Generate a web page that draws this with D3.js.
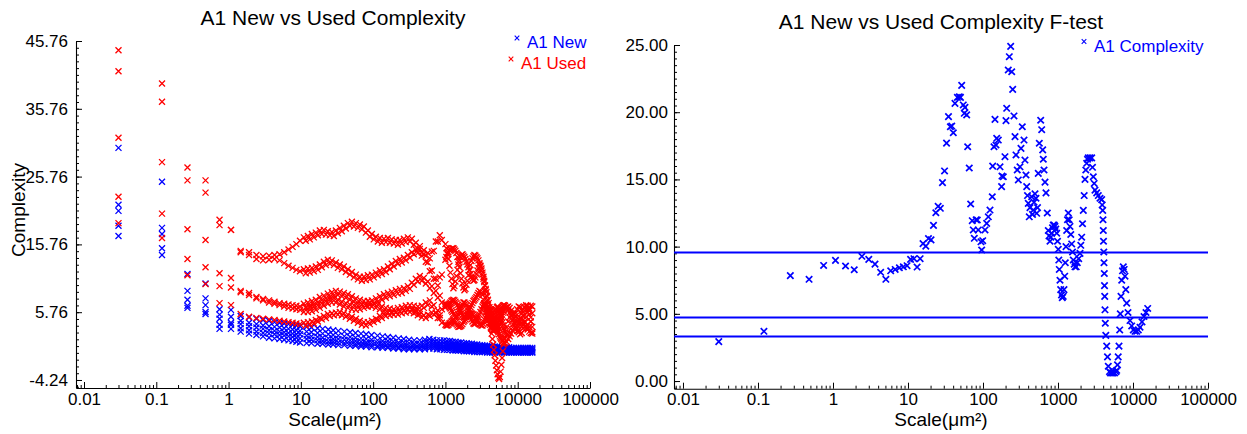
<!DOCTYPE html>
<html><head><meta charset="utf-8">
<script src="https://cdn.jsdelivr.net/npm/d3@7"></script>
<style>
body{margin:0;background:#fff}
svg{display:block}
text{font-family:"Liberation Sans",Arial,sans-serif;fill:#000}
</style>
</head><body><svg id="c" width="1247" height="434"></svg>
<script>
// ---------------- DATA ----------------
// Left panel, A1 New: scale values (µm²) shared by the blue curves
const scaleValues = [0.03,0.12,0.27,0.48,0.75,1.08,1.47,1.92,2.43,3.0,3.63,4.32,5.07,5.88,6.75,7.68,8.67,9.72,
 12,14,17,20,24,28,33,40,48,57,68,80,95,115,135,160,190,225,265,315,370,440,520,600,680,760,850,950,
 1050,1150,1260,1380,1510,1650,1800,1960,2130,2320,2520,2740,2980,3230,3500,3790,4100,4440,4800,5190,5600,6050,6530,7050,7600,8200,8850,9550,10300,11100,11950,12850,13800,14800,15900];

const newCurve1 = [30.0,25.0,11.4,10.0,6.2,6.1,5.2,5.0,4.8,4.6,4.5,4.3,4.2,4.1,4.0,3.9,3.8,3.7,
 3.6,3.5,3.4,3.3,3.2,3.1,3.0,2.9,2.8,2.7,2.6,2.5,2.4,2.3,2.2,2.1,2.0,1.9,1.8,1.7,1.6,1.6,1.7,1.8,1.7,1.6,1.6,1.6,
 1.5,1.5,1.4,1.4,1.3,1.3,1.2,1.2,1.1,1.1,1.0,1.0,0.9,0.9,0.8,0.8,0.8,0.7,0.7,0.7,0.6,0.6,0.6,0.6,0.6,0.5,0.5,0.5,0.5,0.5,0.5,0.5,0.5,0.5,0.5];
const newCurve2 = [21.6,18.2,8.9,7.8,5.4,5.1,4.5,4.2,4.0,3.8,3.7,3.6,3.5,3.4,3.3,3.2,3.1,3.0,
 2.9,2.8,2.7,2.6,2.5,2.4,2.3,2.2,2.1,2.0,1.9,1.8,1.7,1.6,1.5,1.5,1.4,1.3,1.3,1.2,1.1,1.1,1.3,1.4,1.3,1.2,1.2,1.2,
 1.1,1.1,1.0,1.0,1.0,0.9,0.9,0.8,0.8,0.8,0.7,0.7,0.7,0.6,0.6,0.6,0.5,0.5,0.5,0.4,0.4,0.4,0.4,0.4,0.3,0.3,0.3,0.3,0.3,0.3,0.3,0.3,0.3,0.3,0.3];
const newCurve3 = [20.7,17.3,7.6,6.8,4.8,4.2,4.0,3.7,3.5,3.3,3.1,3.0,2.9,2.8,2.7,2.6,2.5,2.5,
 2.3,2.2,2.1,2.0,1.9,1.8,1.8,1.7,1.6,1.5,1.4,1.3,1.3,1.2,1.1,1.1,1.0,1.0,0.9,0.8,0.8,0.8,0.9,1.0,1.0,0.9,0.9,0.8,
 0.8,0.8,0.7,0.7,0.7,0.6,0.6,0.6,0.5,0.5,0.5,0.4,0.4,0.4,0.3,0.3,0.3,0.3,0.2,0.2,0.2,0.2,0.2,0.1,0.1,0.1,0.1,0.1,0.1,0.1,0.1,0.1,0.1,0.1,0.1];
const newCurve4 = [18.5,15.2,6.7,5.8,3.9,3.9,3.4,3.1,2.9,2.7,2.6,2.5,2.4,2.3,2.2,2.1,2.0,1.9,
 1.8,1.7,1.6,1.5,1.4,1.4,1.3,1.2,1.2,1.1,1.0,1.0,0.9,0.8,0.8,0.7,0.7,0.6,0.6,0.5,0.5,0.5,0.6,0.7,0.7,0.6,0.6,0.5,
 0.5,0.5,0.4,0.4,0.4,0.3,0.3,0.3,0.3,0.2,0.2,0.2,0.2,0.1,0.1,0.1,0.1,0.0,0.0,0.0,0.0,0.0,0.0,-0.1,-0.1,-0.1,-0.1,-0.1,-0.1,-0.1,-0.1,-0.1,-0.1,-0.1,-0.1];
const newCurve5 = [17.0,14.2,6.4,5.5,3.3,3.3,2.9,2.6,2.4,2.2,2.0,1.9,1.8,1.7,1.6,1.5,1.4,1.3,
 1.2,1.2,1.1,1.1,1.0,1.0,0.9,0.9,0.8,0.8,0.7,0.7,0.6,0.6,0.5,0.5,0.4,0.4,0.3,0.3,0.3,0.3,0.3,0.4,0.4,0.3,0.3,0.2,
 0.2,0.2,0.1,0.1,0.1,0.1,0.0,0.0,0.0,0.0,-0.1,-0.1,-0.1,-0.1,-0.1,-0.2,-0.2,-0.2,-0.2,-0.2,-0.2,-0.2,-0.2,-0.2,-0.2,-0.2,-0.2,-0.2,-0.2,-0.2,-0.2,-0.2,-0.2,-0.2,-0.2];

// Left panel, A1 Used: scale values shared by the red curves (denser where the red bands are dense)
const usedScale = [0.03,0.12,0.27,0.48,0.75,1.08,1.47,1.92,2.43,3.0,3.63,4.32,5.07,5.88,6.75,7.68,8.67,9.72,
 11,11.7,12.5,13.3,14.2,15.1,16.1,17.2,18.3,19.5,20.8,22.2,23.6,25.2,26.8,28.6,30.5,32.5,34.6,36.9,
 39.3,41.9,44.7,47.6,50.8,54.1,57.7,61.5,65.5,69.8,74.4,79.3,84.5,90,96,102,109,116,124,132,
 141,150,160,170,181,193,206,220,234,249,266,283,302,322,343,365,389,415,442,471,502,535,570,608,648,690,736,784,836,891,
 1000,1032,1066,1100,1136,1173,1211,1250,1290,1332,1375,1420,1466,1513,1562,1613,1665,1719,1775,1832,
 1892,1953,2016,2082,2149,2219,2291,2365,2442,2521,2602,2687,2774,2864,2956,3052,3151,3253,
 3358,3439,3521,3606,3692,3781,3872,3965,4060,4157,4257,4359,4464,4571,4681,4793,4908,5026,5147,5270,5397,5526,5659,5795,5934,6077,6222,6372,6525,
 6700,7030,7375,7737,8117,8515,8933,9372,9832,10314,10820,11351,11909,12493,13106,13750,14425,15133,15900];

const usedCurve1 = [44.4,39.5,27.1,25.2,19.4,17.9,14.8,14.6,14.2,14.0,14.1,14.2,14.3,14.6,15.0,15.4,15.8,16.3,
 16.8,16.3,17.0,16.5,17.3,16.8,17.5,17.1,17.8,17.3,17.9,17.2,17.7,17.1,17.6,17.0,17.8,17.4,18.2,17.7,
 18.5,18.1,18.9,18.5,19.1,18.4,18.9,18.2,18.7,18.0,18.4,17.5,17.8,16.9,17.3,16.5,16.9,16.2,16.7,16.0,
 16.6,16.1,16.7,16.0,16.5,15.9,16.4,15.7,16.4,15.9,16.6,16.1,16.8,16.2,16.6,15.7,16.0,15.1,15.5,14.6,14.9,14.1,14.5,13.7,14.7,14.8,16.2,16.2,17.1,16.4,
 15.8,15.2,14.5,13.6,12.6,11.6,10.7,9.9,9.3,9.6,10.3,11.1,12.0,12.8,13.4,13.9,14.2,14.3,14.1,13.9,
 13.6,13.2,12.8,12.4,11.9,11.4,11.0,10.7,10.4,10.5,10.9,11.4,11.9,12.3,12.8,12.6,12.2,11.6,
 11.0,10.4,9.7,9.0,8.2,7.4,6.6,5.8,5.0,4.2,3.4,2.6,1.8,1.0,0.2,-0.6,-1.4,-2.1,-2.8,-3.4,-3.9,-4.1,-3.8,-3.0,-2.0,-1.0,0.0,1.0,1.9,
 2.6,3.6,4.4,5.0,5.4,5.6,5.5,5.2,4.9,4.7,4.4,4.2,3.9,3.6,3.4,3.2,2.9,2.7,2.6];
const usedCurve2 = [41.3,36.8,25.2,23.4,18.6,17.9,14.6,14.2,13.6,13.4,13.5,13.6,13.4,13.0,12.6,12.3,12.0,11.8,
 12.1,11.5,12.2,11.6,12.3,11.8,12.5,12.0,12.8,12.4,13.2,12.7,13.5,12.9,13.4,12.7,13.1,12.3,12.8,12.1,
 12.5,11.7,12.1,11.3,11.7,10.9,11.3,10.6,11.0,10.4,11.0,10.5,11.2,10.6,11.3,10.9,11.6,11.2,11.9,11.4,
 12.1,11.7,12.5,12.1,12.9,12.5,13.3,12.9,13.6,13.1,13.8,13.4,14.2,13.8,14.6,14.3,15.0,14.5,15.1,14.1,14.3,13.2,13.1,11.8,11.9,10.7,10.7,9.7,10.9,11.3,
 13.5,13.9,14.3,14.6,14.9,15.0,15.1,15.2,15.2,15.0,14.8,14.5,13.9,13.2,12.4,11.5,10.7,10.0,9.4,9.0,
 9.2,9.8,10.4,11.2,12.0,12.7,13.3,13.7,14.0,14.2,14.1,13.9,13.7,13.4,13.0,12.5,11.9,11.3,
 10.7,10.2,9.7,9.2,8.7,8.1,7.6,7.1,6.5,6.0,5.5,5.0,4.6,4.2,3.8,3.5,3.3,3.2,3.3,3.5,3.7,4.0,4.4,4.8,5.1,5.4,5.7,5.9,6.1,
 6.3,6.5,6.6,6.4,6.0,5.5,4.9,4.1,3.4,2.8,2.5,2.7,3.4,4.2,5.1,5.8,6.3,6.7,6.6];
const usedCurve3 = [31.5,27.9,18.0,16.4,11.5,10.8,8.9,8.6,8.0,7.7,7.5,7.3,7.1,7.0,6.9,6.8,6.7,6.6,
 7.0,6.5,7.2,6.7,7.4,6.9,7.6,7.2,8.0,7.5,8.2,7.8,8.5,8.0,8.7,8.2,8.9,8.3,8.8,8.1,
 8.6,7.9,8.4,7.6,8.1,7.3,7.8,7.1,7.6,6.9,7.4,6.7,7.4,6.8,7.5,7.0,7.8,7.3,8.1,7.6,
 8.4,7.9,8.6,8.1,8.8,8.3,9.0,8.5,9.2,8.6,9.3,8.9,9.6,9.2,10.1,9.8,10.7,10.3,11.1,10.4,10.8,10.0,10.3,9.3,9.6,8.6,8.9,7.9,8.2,7.2,
 7.0,6.9,6.8,6.9,7.0,7.2,7.4,7.5,7.6,7.5,7.3,7.1,6.8,6.5,6.2,5.9,5.6,5.3,5.1,5.0,
 5.1,5.3,5.6,5.9,6.2,6.5,6.8,7.1,7.4,7.6,7.8,8.0,8.3,8.6,8.9,8.8,8.6,8.3,
 7.6,7.1,6.7,6.2,5.8,5.4,5.0,4.6,4.2,3.9,3.6,3.3,3.1,3.0,3.1,3.3,3.6,4.0,4.4,4.8,5.1,5.5,5.8,6.1,6.3,6.5,6.7,6.8,6.8,
 6.7,6.5,6.1,5.7,5.2,4.7,4.1,3.6,3.0,3.1,3.9,4.8,5.8,6.4,6.8,6.7,6.0,5.0,3.6];
const usedCurve4 = [22.8,20.3,13.6,12.4,9.6,9.4,8.7,8.3,7.8,7.5,7.2,7.0,6.8,6.6,6.4,6.3,6.2,6.1,
 5.8,6.4,5.8,6.5,5.9,6.6,6.1,6.8,6.4,7.1,6.7,7.4,7.0,7.7,7.2,7.9,7.2,7.6,6.9,7.3,
 6.6,7.1,6.4,6.9,6.2,6.8,6.1,6.7,6.2,6.9,6.4,7.1,6.6,7.2,6.6,7.1,6.4,6.9,6.2,6.6,
 5.9,6.4,5.7,6.3,5.6,6.2,5.7,6.4,5.9,6.5,6.0,6.7,6.2,6.8,6.2,6.7,6.0,6.6,5.9,6.7,6.4,7.2,6.8,7.5,6.6,6.8,5.7,6.0,5.3,6.2,
 6.5,6.7,6.8,6.7,6.5,6.3,6.0,5.8,5.5,5.3,5.1,5.0,5.1,5.4,5.8,6.2,6.6,6.9,7.2,7.2,
 7.0,6.8,6.4,6.0,5.6,5.1,4.7,4.4,4.1,4.0,4.1,4.3,4.6,5.0,5.4,5.8,6.2,6.6,
 6.8,7.0,7.0,6.9,6.7,6.4,6.1,5.7,5.3,5.0,4.7,4.5,4.4,4.6,5.0,5.4,5.8,6.2,6.5,6.6,6.4,6.0,5.6,5.1,4.6,4.2,3.8,3.4,3.1,
 2.9,2.5,2.4,2.7,3.3,4.0,4.8,5.6,6.2,6.6,6.5,6.0,5.2,4.4,3.7,3.4,3.6,4.4,5.6];
const usedCurve5 = [18.9,16.7,11.2,9.9,7.1,6.8,5.5,5.1,4.9,4.8,4.7,4.6,4.5,4.4,4.3,4.2,4.1,4.0,
 4.2,3.8,4.3,3.9,4.4,4.1,4.6,4.4,4.9,4.7,5.2,4.9,5.5,5.2,5.6,5.3,5.7,5.4,5.8,5.3,
 5.6,5.1,5.4,4.8,5.1,4.5,4.8,4.2,4.5,3.9,4.3,3.8,4.3,4.0,4.5,4.3,4.8,4.6,5.2,4.9,
 5.5,5.2,5.7,5.3,5.8,5.4,5.8,5.4,5.9,5.6,6.0,5.7,6.2,5.8,6.1,5.6,5.8,5.3,5.5,5.0,5.3,4.9,5.4,5.2,5.7,5.4,5.6,4.9,4.9,4.2,
 3.9,3.8,3.8,3.9,4.1,4.2,4.4,4.5,4.6,4.4,4.2,4.0,3.8,3.6,3.6,3.7,3.8,4.0,4.3,4.5,
 4.7,5.0,5.2,5.3,5.4,5.5,5.6,5.5,5.4,5.2,5.0,4.8,4.5,4.3,4.0,3.9,3.8,3.8,
 4.0,4.3,4.6,4.9,5.2,5.5,5.8,6.0,6.2,6.2,6.1,6.0,5.7,5.3,4.9,4.5,4.1,3.7,3.4,3.1,2.8,2.5,2.2,2.0,1.8,1.6,1.5,1.3,1.2,
 1.2,1.4,1.8,2.2,2.6,3.0,3.3,3.6,3.8,4.3,4.9,5.6,6.2,6.5,6.6,6.2,5.4,4.4,2.8];

// Right panel: F-test
const fScale = [0.03,0.12,0.27,0.48,0.75,1.08,1.47,1.92,2.43,3.0,3.63,4.32,5.07,5.88,6.75,7.68,8.67,9.72,10.83,12.0,13.23,14.52,15.87,17.28,18.75,20.28,21.87,23.52,25.23,27.0,28.83,30.72,32.67,34.68,36.75,
 38.3,40.2,42.3,45.6,48.3,50.1,52.0,54.6,56.3,57.5,60.6,62.5,65.6,68.5,71.9,74.2,76.6,81.1,83.9,86.5,94.0,96.1,99.1,106.4,112,117.8,124,133,134.6,140.2,144.5,149,152.3,160,168.6,177,179,186.6,196.3,202.6,207,217.3,224.4,233.9,241.5,248.9,258.8,267.2,275.4,286.4,295.7,311.3,321.1,334.2,352.1,362.8,374.2,382.6,392,401.7,414,423,445.6,457,468.5,479,493.7,509,520,533,545.8,563.5,
 587.8,606.3,625.2,636.8,650.9,671.3,691.8,719.9,742.5,758.6,782.3,801.8,824.2,844.7,865.7,890,912,934.7,960.9,984.7,1009,1025,1041,1063,1086,1114,1141,1173,1202,1229,1251,1279,1306,1339,1372,1410,1445,1481,1523,1561,1600,1644,1686,1749,1809,1888,1965,2014,2070,2122,2175,2235,2291,2348,2414,2474,2535,2671,2813,2884,2956,3038,3113,3281,3446,3631,3825,3884,3945,3981,4018,4043,4080,4105,4143,4169,4195,4233,4273,4338,4460,4571,4685,4861,5012,5200,5412,5667,5934,6064,6214,6350,6507,6649,6773,6920,7070,7244,7425,7632,7821,8017,8241,8577,9120,9610,10090,10630,11200,11770,12400,13180,14020,14910,15700];
const fValue = [2.93,3.70,7.84,7.57,8.60,8.98,8.56,8.28,9.28,9.05,8.70,8.09,7.57,8.20,8.30,8.43,8.50,8.58,9.05,9.10,8.48,9.10,10.22,10.04,10.60,10.50,11.58,12.52,13.00,12.85,14.76,15.63,17.70,19.67,18.92,
 18.97,18.47,20.66,21.10,21.15,21.10,22.00,20.54,19.92,20.36,19.80,17.43,15.85,13.17,11.93,11.24,10.62,12.00,11.98,11.24,10.36,9.75,10.44,11.24,11.73,12.22,12.72,13.71,15.99,17.43,19.47,17.56,18.06,17.93,15.94,14.46,15.25,15.20,16.69,19.37,20.29,23.14,24.13,24.90,23.01,21.70,19.72,18.18,16.82,15.70,14.96,15.94,17.31,18.92,17.93,16.44,15.33,14.46,13.8,13.22,12.22,12.9,13.71,12.4,12.72,13.3,13.93,13.6,12.48,12.9,15.45,17.69,
 19.4,18.7,17.2,16.5,15.7,14.8,14.0,12.5,11.2,10.8,10.4,10.7,11.0,11.4,11.6,11.6,11.5,11.3,11.0,10.4,9.8,9.0,8.3,7.5,6.8,6.4,6.2,6.3,6.8,7.8,8.8,10.0,11.2,12.0,12.5,12.0,11.5,10.9,10.2,9.6,9.0,8.7,8.5,8.5,8.8,9.1,9.5,10.1,10.7,11.7,12.7,13.8,15.0,15.7,16.2,16.5,16.6,16.6,16.6,15.9,15.2,14.7,14.2,14.0,13.8,13.6,13.5,13.1,12.7,12.0,11.2,10.4,9.6,8.8,8.0,7.1,6.3,5.3,4.3,3.4,2.6,1.8,1.1,0.7,0.6,0.6,0.6,0.6,0.7,0.8,1.2,1.8,2.6,3.8,5.0,6.3,7.5,8.2,8.5,8.3,7.8,6.8,5.8,5.1,4.5,4.1,3.8,3.7,3.7,3.8,4.0,4.4,4.8,5.1,5.4];
const fThresholds = [9.57, 4.72, 3.31];

// Ticks / labels
const xTickValues = [0.01,0.1,1,10,100,1000,10000,100000];
const xTickLabels = ["0.01","0.1","1","10","100","1000","10000","100000"];
const leftYTicks = [-4.24,5.76,15.76,25.76,35.76,45.76];
const rightYTicks = [0,5,10,15,20,25];
const titles = ["A1 New vs Used Complexity","A1 New vs Used Complexity F-test"];
const xLabel = "Scale(\u03bcm\u00b2)";
const yLabelLeft = "Complexity";
const legendLeft = ["A1 New","A1 Used"];
const legendRight = ["A1 Complexity"];

// ---------------- DRAW ----------------
const BLUE = "#0000ff", RED = "#ff0000";
const svg = d3.select("#c");
const cross = s => `M${-s},${-s}L${s},${s}M${s},${-s}L${-s},${s}`;

function minorLog(scale){
  const out=[]; const [a,b]=scale.domain();
  for(let e=-3;e<=5;e++) for(let m=2;m<=9;m++){const v=m*Math.pow(10,e); if(v>a&&v<b) out.push(v);}
  return out;
}
function styleAxis(g, fs){
  g.selectAll("path.domain").attr("stroke","#000").attr("stroke-width",1.1);
  g.selectAll(".tick line").attr("stroke","#000").attr("stroke-width",1);
  g.selectAll(".tick text").attr("font-size",fs).attr("font-family",'"Liberation Sans",Arial,sans-serif').attr("fill","#000");
}
function drawAxes(x, y, yTicks, yFmt, yMinorStep, xAxisY, yAxisX, yPad, xPad){
  const [y0,y1]=y.domain();
  const yMin=[];
  for(let v=yTicks[0]; v>=y0; v-=yMinorStep) yMin.push(v);
  for(let v=yTicks[0]; v<=y1+1e-9; v+=yMinorStep) yMin.push(v);
  svg.append("g").attr("transform",`translate(${yAxisX},0)`)
    .call(d3.axisLeft(y).tickValues(yMin.filter(v=>v>=y0&&v<=y1)).tickFormat("").tickSize(-3).tickSizeOuter(0))
    .call(g=>{g.select(".domain").remove(); styleAxis(g,17);});
  svg.append("g").attr("transform",`translate(${yAxisX},0)`)
    .call(d3.axisLeft(y).tickValues(yTicks).tickFormat(yFmt).tickSize(-6).tickSizeOuter(0).tickPadding(yPad))
    .call(g=>styleAxis(g,17));
  svg.append("g").attr("transform",`translate(0,${xAxisY})`)
    .call(d3.axisBottom(x).tickValues(minorLog(x)).tickFormat("").tickSize(-3).tickSizeOuter(0))
    .call(g=>{g.select(".domain").remove(); styleAxis(g,17);});
  svg.append("g").attr("transform",`translate(0,${xAxisY})`)
    .call(d3.axisBottom(x).tickValues(xTickValues).tickFormat((d,i)=>xTickLabels[i]).tickSize(-6).tickSizeOuter(0).tickPadding(xPad))
    .call(g=>styleAxis(g,17));
}

// ----- Left panel -----
const xL = d3.scaleLog().domain([0.00775,1e5]).range([76,590]);
const yL = d3.scaleLinear().domain([-5.42,45.76]).range([388,41]);
drawAxes(xL, yL, leftYTicks, d=>d.toFixed(2), 1, 388, 76, 8, 5);

const newCurves=[newCurve1,newCurve2,newCurve3,newCurve4,newCurve5];
const usedCurves=[usedCurve1,usedCurve2,usedCurve3,usedCurve4,usedCurve5];
function drawSeries(curves,xs,color,sw,s){
  const g=svg.append("g");
  curves.forEach(c=>{
    g.selectAll(null).data(c.map((v,i)=>[xs[i],v])).enter().append("path")
      .attr("d",cross(s)).attr("transform",d=>`translate(${xL(d[0])},${yL(d[1])})`)
      .attr("stroke",color).attr("stroke-width",sw).attr("fill","none");
  });
}
drawSeries(newCurves,scaleValues,BLUE,1.3,3);
drawSeries(usedCurves,usedScale,RED,1.3,3);

svg.append("text").attr("x",333).attr("y",24.5).attr("text-anchor","middle").attr("font-size",21).text(titles[0]);
svg.append("text").attr("x",335).attr("y",426).attr("text-anchor","middle").attr("font-size",19).text(xLabel);
svg.append("text").attr("transform","translate(25,210) rotate(-90)").attr("text-anchor","middle").attr("font-size",19).text(yLabelLeft);

[[legendLeft[0],BLUE,527,48,517,38],[legendLeft[1],RED,521,69,511,59]].forEach(([t,c,tx,ty,mx,my])=>{
  svg.append("path").attr("d",cross(2.3)).attr("transform",`translate(${mx},${my})`).attr("stroke",c).attr("stroke-width",1.1).attr("fill","none");
  svg.append("text").attr("x",tx).attr("y",ty).attr("font-size",17).style("fill",c).text(t);
});

// ----- Right panel -----
const xR = d3.scaleLog().domain([0.00759,1e5]).range([674,1208]);
const yR = d3.scaleLinear().domain([-0.57,25]).range([388.7,45]);
drawAxes(xR, yR, rightYTicks, d=>d.toFixed(2), 0.5, 388.7, 674, 6, 4.3);

svg.append("g").selectAll("line").data(fThresholds).enter().append("line")
  .attr("x1",xR.range()[0]).attr("x2",xR.range()[1])
  .attr("y1",d=>yR(d)).attr("y2",d=>yR(d))
  .attr("stroke",BLUE).attr("stroke-width",2);

svg.append("g").selectAll("path").data(fScale.map((x,i)=>[x,fValue[i]])).enter().append("path")
  .attr("d",cross(3.2)).attr("transform",d=>`translate(${xR(d[0])},${yR(d[1])})`)
  .attr("stroke",BLUE).attr("stroke-width",1.7).attr("fill","none");

svg.append("text").attr("x",941).attr("y",28.5).attr("text-anchor","middle").attr("font-size",21).text(titles[1]);
svg.append("text").attr("x",941).attr("y",426).attr("text-anchor","middle").attr("font-size",19).text(xLabel);

svg.append("path").attr("d",cross(2.3)).attr("transform","translate(1084,41.5)").attr("stroke",BLUE).attr("stroke-width",1.1).attr("fill","none");
svg.append("text").attr("x",1094).attr("y",51.5).attr("font-size",17).style("fill",BLUE).text(legendRight[0]);
</script>
</body></html>
